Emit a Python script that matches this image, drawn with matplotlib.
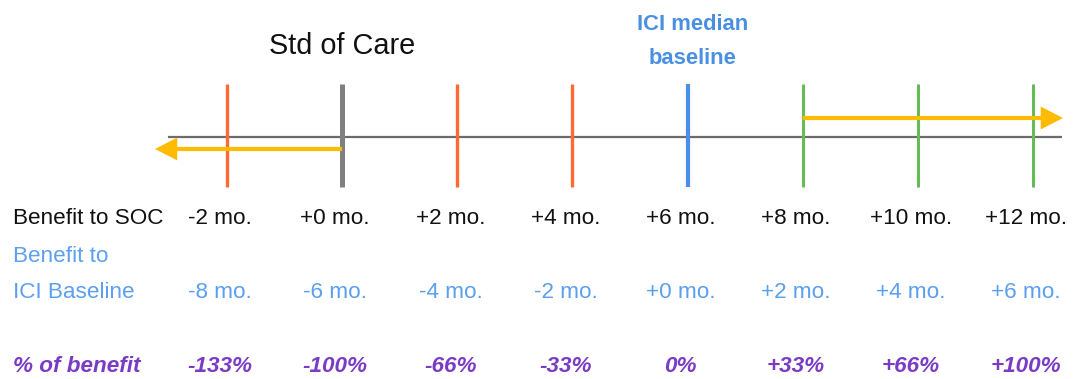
import matplotlib
matplotlib.use("Agg")
import matplotlib.pyplot as plt
from matplotlib.patches import FancyArrowPatch, ArrowStyle

plt.rcParams['font.family'] = ['Liberation Sans', 'DejaVu Sans']

# Timeline values (months of benefit relative to standard of care)
soc_months = [-2, 0, 2, 4, 6, 8, 10, 12]
soc_labels = ["-2 mo.", "+0 mo.", "+2 mo.", "+4 mo.", "+6 mo.", "+8 mo.", "+10 mo.", "+12 mo."]
ici_labels = ["-8 mo.", "-6 mo.", "-4 mo.", "-2 mo.", "+0 mo.", "+2 mo.", "+4 mo.", "+6 mo."]
pct_labels = ["-133%", "-100%", "-66%", "-33%", "0%", "+33%", "+66%", "+100%"]
marker_kind = ["worse", "soc", "worse", "worse", "ici", "better", "better", "better"]

soc_baseline = 0
ici_baseline = 6
worse_arrow = (0, -3.25)
better_arrow = (8, 12.52)

kind_color = {"worse": "#ff6a33", "soc": "#7f7f7f", "ici": "#4a8fe7", "better": "#66bb55"}
kind_width = {"worse": 2.4, "soc": 3.6, "ici": 3.0, "better": 2.2}

BLACK = "#111111"
BLUE_TXT = "#5a9ff0"
BLUE_HEAD = "#4a90e2"
PURPLE = "#7a3cc4"
YELLOW = "#ffbb00"

FS = 16.2

W, H = 1076, 379
fig = plt.figure(figsize=(W / 100, H / 100), dpi=100)
ax = fig.add_axes([0, 0, 1, 1])
px_per_month = (1033 - 227) / 14
x0 = -2 - 227 / px_per_month
ax.set_xlim(x0, x0 + W / px_per_month)
ax.set_ylim(H, 0)
ax.axis("off")

# main axis line
ax.plot([-3.02, 12.5], [137, 137], color="#6b6b6b", lw=1.6, solid_capstyle="butt", zorder=1)

# vertical markers
for m, k in zip(soc_months, marker_kind):
    ax.plot([m, m], [84, 187], color=kind_color[k], lw=kind_width[k],
            solid_capstyle="butt", zorder=2)

# direction arrows
style = ArrowStyle.Simple(head_length=16, head_width=16.5, tail_width=3.0)
for (xs, xe), y in ((worse_arrow, 149), (better_arrow, 118)):
    ax.add_patch(FancyArrowPatch((xs, y), (xe, y), arrowstyle=style, mutation_scale=1,
                                 color=YELLOW, lw=0, shrinkA=0, shrinkB=0, zorder=3))

# headings
ax.text(soc_baseline, 46, "Std of Care", ha="center", va="center", fontsize=20.8, color=BLACK)
ax.text(ici_baseline + 0.08, 25, "ICI median", ha="center", va="center", fontsize=15.8,
        fontweight="bold", color=BLUE_HEAD)
ax.text(ici_baseline + 0.08, 58, "baseline", ha="center", va="center", fontsize=15.8,
        fontweight="bold", color=BLUE_HEAD)

# row titles
left = 13 / px_per_month + x0
ax.text(left, 218, "Benefit to SOC", ha="left", va="center", fontsize=FS, color=BLACK)
ax.text(left, 256, "Benefit to", ha="left", va="center", fontsize=FS, color=BLUE_TXT)
ax.text(left, 293, "ICI Baseline", ha="left", va="center", fontsize=FS, color=BLUE_TXT)
ax.text(left, 367, "% of benefit", ha="left", va="center", fontsize=FS, color=PURPLE,
        fontweight="bold", fontstyle="italic")

# column labels
shift = -0.12
for m, a, b, c in zip(soc_months, soc_labels, ici_labels, pct_labels):
    ax.text(m + shift, 218, a, ha="center", va="center", fontsize=FS, color=BLACK)
    ax.text(m + shift, 293, b, ha="center", va="center", fontsize=FS, color=BLUE_TXT)
    ax.text(m + shift, 367, c, ha="center", va="center", fontsize=FS, color=PURPLE,
            fontweight="bold", fontstyle="italic")

fig.savefig("out.png", dpi=100, facecolor="white")
